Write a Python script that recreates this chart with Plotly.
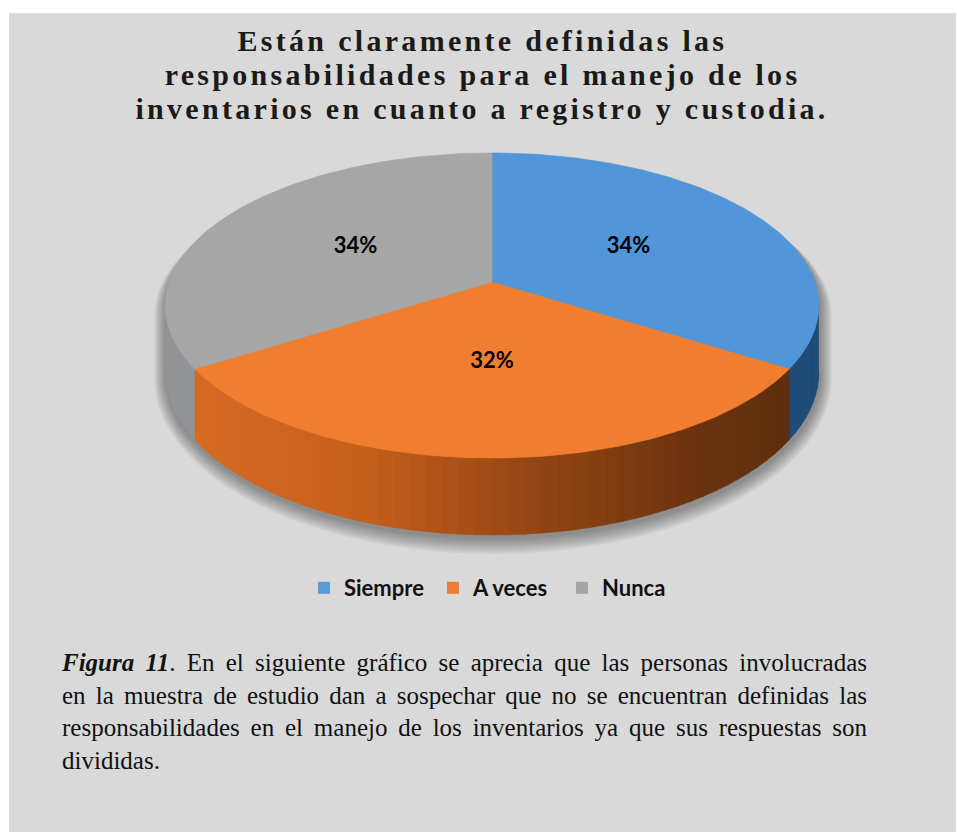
import numpy as np
import plotly.graph_objects as go

# ---------------- data ----------------
categories = ["Siempre", "A veces", "Nunca"]
values = [34, 32, 34]
top_colors = ["#5096d8", "#f07e2e", "#a6a6a6"]
legend_colors = ["#5b9bd5", "#ed7d31", "#a5a5a5"]
title_lines = ["Están claramente definidas las",
               "responsabilidades para el manejo de los",
               "inventarios en cuanto a registro y custodia."]
caption_lines = ["<b><i>Figura 11</i></b>. En el siguiente gráfico se aprecia que las personas involucradas",
                 "en la muestra de estudio dan a sospechar que no se encuentran definidas las",
                 "responsabilidades en el manejo de los inventarios ya que sus respuestas son",
                 "divididas."]

# ---------------- geometry (pixel space) ----------------
W, H = 957, 832
cx, cy0, A, B, k, D0 = 492, 282, 323, 149, 0.154, 65


def proj(theta, r=1.0, depth=0.0):
    w = 1 + k * r * np.cos(theta)
    wr = 1 + k * np.cos(theta)
    x = cx + A * r * np.sin(theta) / w
    y = cy0 - B * r * np.cos(theta) / w + depth * D0 / wr
    return x, y


def interp(stops, t):
    t = min(max(t, 0), 1)
    for (t0, c0), (t1, c1) in zip(stops[:-1], stops[1:]):
        if t0 <= t <= t1:
            f = (t - t0) / (t1 - t0) if t1 > t0 else 0
            c = [int(round(a + (b - a) * f)) for a, b in zip(c0, c1)]
            return "rgb(%d,%d,%d)" % tuple(c)
    return "rgb(%d,%d,%d)" % stops[-1][1]


side_stops = [
    [(0, (52, 112, 176)), (1, (30, 74, 118))],
    [(0, (216, 108, 36)), (0.3, (198, 95, 28)), (0.55, (150, 70, 20)), (0.8, (108, 51, 14)), (1, (92, 44, 12))],
    [(0, (146, 148, 152)), (1, (120, 120, 120))],
]

total = sum(values)
bounds = np.concatenate([[0], np.cumsum(values)]) / total * 2 * np.pi
th_e1 = np.arccos(-k)
th_e2 = 2 * np.pi - th_e1

fig = go.Figure()

# soft shadow of the pie body (mostly below / sides)
sil_back = np.linspace(th_e2 - 2 * np.pi, th_e1, 160)
sil_front = np.linspace(th_e1, th_e2, 160)
xb, yb = proj(sil_back)
xf, yf = proj(sil_front, depth=1)
sx = np.concatenate([xb, xf])
sy = np.concatenate([yb, yf])
mx, my = sx.mean(), 330.0
for i in range(9, 0, -1):
    e = 1.3 * i
    fx = (sx - mx) * (1 + e / A) + mx + 1
    fy = np.where(sy > my, my + (sy - my) * (1 + e / 150), sy + e * 0.6) + 3
    fig.add_trace(go.Scatter(x=fx, y=fy, fill="toself", mode="none",
                             fillcolor="rgba(40,40,40,0.055)", hoverinfo="skip", showlegend=False))

# sides
for i in range(len(values)):
    lo = max(bounds[i], th_e1)
    hi = min(bounds[i + 1], th_e2)
    if lo >= hi:
        continue
    n = max(2, int(np.degrees(hi - lo) / 2.5))
    edges = np.linspace(lo, hi, n + 1)
    for a0, a1 in zip(edges[:-1], edges[1:]):
        th = np.linspace(a0, a1 + 0.004, 4)
        tx, ty = proj(th)
        bx, by = proj(th[::-1], depth=1)
        t = (tx.mean() - 165) / 655
        col = interp(side_stops[i], t)
        fig.add_trace(go.Scatter(x=np.concatenate([tx, bx]), y=np.concatenate([ty, by]),
                                 fill="toself", mode="lines", line=dict(color=col, width=0.6),
                                 fillcolor=col, hoverinfo="skip", showlegend=False))

# top faces
for i in range(len(values)):
    th = np.linspace(bounds[i], bounds[i + 1], 120)
    rx, ry = proj(th)
    px = np.concatenate([[cx], rx, [cx]])
    py = np.concatenate([[cy0], ry, [cy0]])
    fig.add_trace(go.Scatter(x=px, y=py, fill="toself", mode="lines",
                             line=dict(color=top_colors[i], width=0.5),
                             fillcolor=top_colors[i], hoverinfo="skip", showlegend=False))

# labels
mids = (bounds[:-1] + bounds[1:]) / 2
lx, ly = proj(mids, r=0.5)
fig.add_trace(go.Scatter(x=lx, y=ly, mode="text",
                         text=["%d%%" % v for v in values],
                         textfont=dict(family="Lato", size=22, color="black", weight="bold"),
                         hoverinfo="skip", showlegend=False))

# legend entries
for cat, col in zip(categories, legend_colors):
    fig.add_trace(go.Scatter(x=[None], y=[None], mode="markers", name="<b>%s</b>" % cat,
                             marker=dict(symbol="square", size=12, color=col)))

fig.add_shape(type="rect", xref="x", yref="y", x0=9, x1=956, y0=13, y1=H,
              fillcolor="#d9d9d9", line=dict(width=0), layer="below")

for j, line in enumerate(title_lines):
    fig.add_annotation(x=482, y=40 + 34 * j, xref="x", yref="y", xanchor="center", yanchor="middle",
                       text=line, showarrow=False, align="center",
                       font=dict(family="Liberation Serif", size=30, color="#1a1a1a", weight="bold"))

fig.add_annotation(x=59, y=647, xref="x", yref="y", xanchor="left", yanchor="top",
                   text="<br>".join(caption_lines), showarrow=False, align="left",
                   font=dict(family="Liberation Serif", size=25, color="#111111"))

fig.update_layout(
    width=W, height=H, margin=dict(l=0, r=0, t=0, b=0),
    paper_bgcolor="white", plot_bgcolor="rgba(0,0,0,0)",
    xaxis=dict(range=[0, W], visible=False, fixedrange=True),
    yaxis=dict(range=[H, 0], visible=False, fixedrange=True),
    showlegend=True,
    legend=dict(orientation="h", x=304 / W, xanchor="left", y=1 - 588 / H, yanchor="middle",
                bgcolor="rgba(0,0,0,0)", itemwidth=30, entrywidth=84, entrywidthmode="pixels",
                font=dict(family="Lato", size=22, color="#111111")),
)

post = """
var titles = ['Están claramente', 'responsabilidades para', 'inventarios en cuanto'];
document.querySelectorAll('text.annotation-text').forEach(function(t){
  var s = t.textContent;
  titles.forEach(function(p){ if (s.indexOf(p) === 0) { t.style.letterSpacing = '3.3px'; } });
  if (s.indexOf('Figura') === 0) {
    var lines = t.querySelectorAll('tspan.line');
    for (var i = 0; i < lines.length - 1; i++) {
      var ln = lines[i];
      var len = ln.getComputedTextLength();
      var sp = (ln.textContent.match(/ /g) || []).length;
      if (sp > 0 && len < 805) { ln.style.wordSpacing = ((805 - len) / sp) + 'px'; }
    }
  }
});
"""
fig.write_html("out.html", post_script=post)
